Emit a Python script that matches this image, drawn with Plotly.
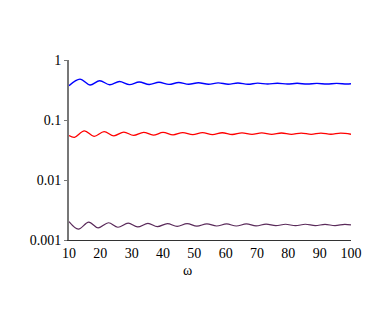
import plotly.graph_objects as go

# extrema (omega, value)
blue_w = [10, 13.5, 16.7, 19.8, 23.0, 26.1, 29.3, 32.4, 35.6, 38.7, 41.9, 45.0, 48.2,
          51.3, 54.5, 57.6, 60.8, 63.9, 67.1, 70.2, 73.4, 76.5, 79.7, 82.8, 86.0,
          89.1, 92.3, 95.4, 98.6, 100]
blue_v = [0.372, 0.480, 0.383, 0.452, 0.386, 0.438, 0.389, 0.430, 0.391, 0.425, 0.392,
          0.421, 0.394, 0.417, 0.394, 0.415, 0.395, 0.413, 0.395, 0.411, 0.397, 0.410,
          0.397, 0.409, 0.397, 0.408, 0.398, 0.407, 0.398, 0.401]

red_w = [10, 11.75, 14.9, 18.0, 21.2, 24.3, 27.5, 30.6, 33.8, 36.9, 40.0, 43.2, 46.3,
         49.5, 52.6, 55.8, 58.9, 62.1, 65.2, 68.4, 71.5, 74.7, 77.8, 81.0, 84.1, 87.3,
         90.4, 93.6, 96.7, 100]
red_v = [0.0552, 0.0515, 0.0660, 0.0535, 0.0640, 0.0545, 0.0630, 0.0554, 0.0624, 0.0560,
         0.0620, 0.0565, 0.0617, 0.0569, 0.0615, 0.0571, 0.0613, 0.0573, 0.0611, 0.0575,
         0.0609, 0.0576, 0.0607, 0.0577, 0.0606, 0.0578, 0.0605, 0.0579, 0.0604, 0.0579]

purple_w = [10, 13.0, 16.3, 19.3, 22.6, 25.6, 28.9, 31.9, 35.2, 38.2, 41.4, 44.5, 47.7,
            50.8, 54.0, 57.1, 60.3, 63.4, 66.6, 69.7, 72.9, 76.0, 79.1, 82.3, 85.4,
            88.6, 91.7, 94.9, 98.0, 100]
purple_v = [0.00203, 0.00152, 0.00199, 0.00159, 0.00194, 0.00163, 0.00191, 0.00165,
            0.00189, 0.00167, 0.00188, 0.00169, 0.00187, 0.00170, 0.00186, 0.00171,
            0.00185, 0.00171, 0.00185, 0.00172, 0.00184, 0.00173, 0.00183, 0.00173,
            0.00183, 0.00174, 0.00182, 0.00174, 0.00182, 0.00178]

x_ticks = [10, 20, 30, 40, 50, 60, 70, 80, 90, 100]
y_ticks = [0.001, 0.01, 0.1, 1]
y_labels = ["0.001", "0.01", "0.1", "1"]

FONT = "Liberation Serif"

fig = go.Figure()
for w, v, col, lw in [(blue_w, blue_v, "#0000ff", 1.4),
                      (red_w, red_v, "#ff0000", 1.3),
                      (purple_w, purple_v, "#5a2a5a", 1.2)]:
    fig.add_trace(go.Scatter(x=w, y=v, mode="lines",
                             line=dict(color=col, width=lw, shape="spline", smoothing=1.0),
                             showlegend=False, hoverinfo="skip"))

fig.add_annotation(x=0.42, y=-0.222, xref="paper", yref="paper",
                   text="ω", showarrow=False,
                   font=dict(family=FONT, size=14, color="#000"))

# page body adds an 8px offset, margins are trimmed to compensate
fig.update_layout(
    width=392, height=327,
    margin=dict(l=61, r=49, t=52, b=95),
    plot_bgcolor="white", paper_bgcolor="white",
    font=dict(family=FONT, size=14, color="#000"),
    xaxis=dict(range=[10, 100], tickvals=x_ticks, showgrid=False, zeroline=False,
               showline=True, linecolor="#333", linewidth=1,
               ticks="", ticklabelstandoff=0),
    yaxis=dict(type="log", range=[-3, 0], tickvals=y_ticks, ticktext=y_labels,
               showgrid=False, zeroline=False,
               showline=True, linecolor="#777", linewidth=2,
               ticks="outside", ticklen=3, tickcolor="#777"),
)

fig.write_html("out.html")
